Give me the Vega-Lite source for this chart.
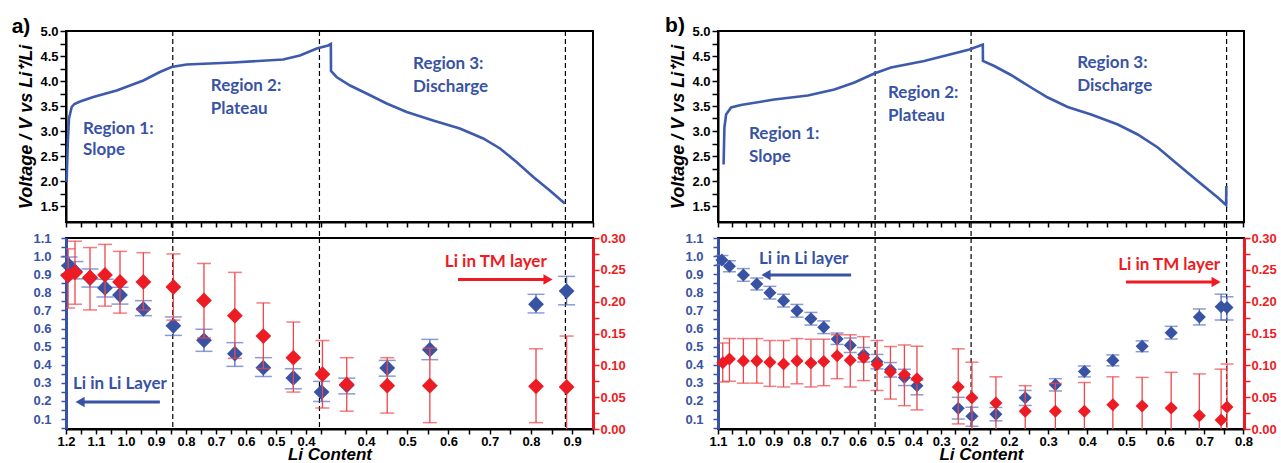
{
  "$schema": "https://vega.github.io/schema/vega-lite/v6.json",
  "background": "white",
  "padding": {"left": 10, "top": 14, "right": 0, "bottom": 0},
  "config": {
    "view": {"stroke": "black", "strokeWidth": 2},
    "axis": {"labelFont": "Liberation Sans", "labelFontWeight": "bold", "labelFontSize": 13, "labelColor": "black", "domainColor": "black", "domainWidth": 2, "tickColor": "black", "tickWidth": 1.5, "grid": false, "titleFont": "Liberation Sans", "titleFontStyle": "italic", "titleFontWeight": "bold", "titleFontSize": 18, "titleColor": "black", "labelOverlap": false, "labelFlush": false, "tickCount": 100}
  },
  "datasets": {
    "vA": [
      {"i":1,"s":0.002,"V":1.98},{"i":2,"s":0.006,"V":2.78},{"i":3,"s":0.010,"V":3.25},{"i":4,"s":0.019,"V":3.48},{"i":5,"s":0.028,"V":3.54},{"i":6,"s":0.047,"V":3.59},{"i":7,"s":0.091,"V":3.68},{"i":8,"s":0.169,"V":3.81},{"i":9,"s":0.258,"V":4.01},{"i":10,"s":0.313,"V":4.18},{"i":11,"s":0.352,"V":4.28},{"i":12,"s":0.402,"V":4.33},{"i":13,"s":0.558,"V":4.37},{"i":14,"s":0.724,"V":4.43},{"i":15,"s":0.78,"V":4.51},{"i":16,"s":0.836,"V":4.65},{"i":17,"s":0.874,"V":4.71},{"i":18,"s":0.883,"V":4.74},{"i":19,"s":0.8835,"V":4.2},{"i":20,"s":0.902,"V":4.08},{"i":21,"s":0.947,"V":3.91},{"i":22,"s":1.002,"V":3.75},{"i":23,"s":1.069,"V":3.55},{"i":24,"s":1.136,"V":3.38},{"i":25,"s":1.224,"V":3.21},{"i":26,"s":1.313,"V":3.05},{"i":27,"s":1.391,"V":2.85},{"i":28,"s":1.447,"V":2.65},{"i":29,"s":1.502,"V":2.38},{"i":30,"s":1.558,"V":2.08},{"i":31,"s":1.613,"V":1.81},{"i":32,"s":1.663,"V":1.55}
    ],
    "vB": [
      {"i":1,"s":0.020,"V":2.33},{"i":2,"s":0.023,"V":3.07},{"i":3,"s":0.029,"V":3.33},{"i":4,"s":0.047,"V":3.47},{"i":5,"s":0.082,"V":3.52},{"i":6,"s":0.202,"V":3.63},{"i":7,"s":0.322,"V":3.71},{"i":8,"s":0.417,"V":3.83},{"i":9,"s":0.489,"V":3.97},{"i":10,"s":0.560,"V":4.15},{"i":11,"s":0.620,"V":4.27},{"i":12,"s":0.739,"V":4.40},{"i":13,"s":0.859,"V":4.57},{"i":14,"s":0.901,"V":4.63},{"i":15,"s":0.949,"V":4.73},{"i":16,"s":0.9495,"V":4.40},{"i":17,"s":0.990,"V":4.30},{"i":18,"s":1.050,"V":4.12},{"i":19,"s":1.122,"V":3.87},{"i":20,"s":1.182,"V":3.67},{"i":21,"s":1.253,"V":3.48},{"i":22,"s":1.337,"V":3.33},{"i":23,"s":1.433,"V":3.13},{"i":24,"s":1.504,"V":2.93},{"i":25,"s":1.576,"V":2.67},{"i":26,"s":1.648,"V":2.33},{"i":27,"s":1.719,"V":2.00},{"i":28,"s":1.791,"V":1.67},{"i":29,"s":1.821,"V":1.52},{"i":30,"s":1.8215,"V":1.90}
    ],
    "dA": [{"s":0.356},{"s":0.845},{"s":1.665}],
    "dB": [{"s":0.563},{"s":0.907},{"s":1.8226}],
    "tA": [{"s":0.057,"V":3.04,"t":"Region 1:"},{"s":0.057,"V":2.62,"t":"Slope"},{"s":0.483,"V":3.9,"t":"Region 2:"},{"s":0.483,"V":3.44,"t":"Plateau"},{"s":1.157,"V":4.34,"t":"Region 3:"},{"s":1.157,"V":3.88,"t":"Discharge"}],
    "tB": [{"s":0.111,"V":2.94,"t":"Region 1:"},{"s":0.111,"V":2.48,"t":"Slope"},{"s":0.609,"V":3.76,"t":"Region 2:"},{"s":0.609,"V":3.30,"t":"Plateau"},{"s":1.287,"V":4.36,"t":"Region 3:"},{"s":1.287,"V":3.90,"t":"Discharge"}],
    "aLi": [
      {"s":0.01,"v":0.947,"lo":0.90,"hi":0.995},{"s":0.03,"v":0.915,"lo":0.874,"hi":0.97},{"s":0.08,"v":0.879,"lo":0.829,"hi":0.929},{"s":0.13,"v":0.824,"lo":0.774,"hi":0.872},{"s":0.18,"v":0.785,"lo":0.735,"hi":0.828},{"s":0.258,"v":0.708,"lo":0.671,"hi":0.754},{"s":0.358,"v":0.615,"lo":0.562,"hi":0.664},{"s":0.46,"v":0.535,"lo":0.474,"hi":0.596},{"s":0.563,"v":0.461,"lo":0.391,"hi":0.522},{"s":0.658,"v":0.384,"lo":0.335,"hi":0.439},{"s":0.758,"v":0.327,"lo":0.267,"hi":0.378},{"s":0.852,"v":0.249,"lo":0.197,"hi":0.308},{"s":0.936,"v":0.286,"lo":0.239,"hi":0.326},{"s":1.071,"v":0.382,"lo":0.337,"hi":0.424},{"s":1.213,"v":0.483,"lo":0.428,"hi":0.54},{"s":1.567,"v":0.734,"lo":0.686,"hi":0.789},{"s":1.669,"v":0.807,"lo":0.731,"hi":0.888}
    ],
    "aTM": [
      {"s":0.007,"v":0.241,"lo":0.19,"hi":0.283},{"s":0.03,"v":0.246,"lo":0.196,"hi":0.295},{"s":0.08,"v":0.238,"lo":0.187,"hi":0.285},{"s":0.13,"v":0.242,"lo":0.193,"hi":0.29},{"s":0.18,"v":0.231,"lo":0.182,"hi":0.279},{"s":0.258,"v":0.231,"lo":0.187,"hi":0.277},{"s":0.358,"v":0.223,"lo":0.171,"hi":0.275},{"s":0.46,"v":0.202,"lo":0.143,"hi":0.26},{"s":0.563,"v":0.178,"lo":0.111,"hi":0.246},{"s":0.658,"v":0.146,"lo":0.095,"hi":0.198},{"s":0.758,"v":0.112,"lo":0.058,"hi":0.168},{"s":0.855,"v":0.086,"lo":0.033,"hi":0.139},{"s":0.936,"v":0.07,"lo":0.028,"hi":0.112},{"s":1.071,"v":0.068,"lo":0.025,"hi":0.112},{"s":1.213,"v":0.068,"lo":0.01,"hi":0.127},{"s":1.567,"v":0.067,"lo":0.01,"hi":0.126},{"s":1.669,"v":0.066,"lo":-0.02,"hi":0.146}
    ],
    "bLi": [
      {"s":0.014,"v":0.978,"lo":0.953,"hi":1.003},{"s":0.041,"v":0.944,"lo":0.914,"hi":0.974},{"s":0.091,"v":0.896,"lo":0.861,"hi":0.931},{"s":0.139,"v":0.846,"lo":0.813,"hi":0.879},{"s":0.186,"v":0.798,"lo":0.763,"hi":0.833},{"s":0.235,"v":0.754,"lo":0.719,"hi":0.789},{"s":0.283,"v":0.698,"lo":0.663,"hi":0.733},{"s":0.333,"v":0.654,"lo":0.619,"hi":0.689},{"s":0.379,"v":0.607,"lo":0.572,"hi":0.642},{"s":0.427,"v":0.542,"lo":0.512,"hi":0.575},{"s":0.474,"v":0.507,"lo":0.467,"hi":0.547},{"s":0.522,"v":0.455,"lo":0.415,"hi":0.495},{"s":0.570,"v":0.417,"lo":0.377,"hi":0.457},{"s":0.618,"v":0.372,"lo":0.332,"hi":0.412},{"s":0.668,"v":0.330,"lo":0.285,"hi":0.375},{"s":0.713,"v":0.284,"lo":0.234,"hi":0.315},{"s":0.861,"v":0.159,"lo":0.10,"hi":0.22},{"s":0.910,"v":0.115,"lo":0.06,"hi":0.165},{"s":0.996,"v":0.126,"lo":0.09,"hi":0.164},{"s":1.101,"v":0.218,"lo":0.175,"hi":0.258},{"s":1.209,"v":0.289,"lo":0.255,"hi":0.323},{"s":1.313,"v":0.363,"lo":0.333,"hi":0.393},{"s":1.415,"v":0.424,"lo":0.394,"hi":0.454},{"s":1.520,"v":0.502,"lo":0.472,"hi":0.532},{"s":1.624,"v":0.577,"lo":0.542,"hi":0.612},{"s":1.725,"v":0.664,"lo":0.62,"hi":0.708},{"s":1.803,"v":0.72,"lo":0.647,"hi":0.79},{"s":1.824,"v":0.716,"lo":0.647,"hi":0.775}
    ],
    "bTM": [
      {"s":0.017,"v":0.104,"lo":0.074,"hi":0.135},{"s":0.041,"v":0.110,"lo":0.075,"hi":0.142},{"s":0.091,"v":0.107,"lo":0.072,"hi":0.142},{"s":0.139,"v":0.107,"lo":0.072,"hi":0.142},{"s":0.186,"v":0.105,"lo":0.067,"hi":0.139},{"s":0.235,"v":0.102,"lo":0.066,"hi":0.139},{"s":0.283,"v":0.107,"lo":0.071,"hi":0.142},{"s":0.333,"v":0.1035,"lo":0.066,"hi":0.141},{"s":0.379,"v":0.106,"lo":0.068,"hi":0.141},{"s":0.427,"v":0.115,"lo":0.079,"hi":0.148},{"s":0.474,"v":0.108,"lo":0.066,"hi":0.148},{"s":0.522,"v":0.112,"lo":0.076,"hi":0.145},{"s":0.570,"v":0.1015,"lo":0.0605,"hi":0.139},{"s":0.618,"v":0.0897,"lo":0.047,"hi":0.1295},{"s":0.668,"v":0.0855,"lo":0.0366,"hi":0.132},{"s":0.713,"v":0.079,"lo":0.03,"hi":0.13},{"s":0.861,"v":0.066,"lo":0.008,"hi":0.126},{"s":0.910,"v":0.049,"lo":-0.02,"hi":0.105},{"s":0.996,"v":0.041,"lo":-0.02,"hi":0.082},{"s":1.101,"v":0.028,"lo":-0.02,"hi":0.068},{"s":1.209,"v":0.028,"lo":-0.02,"hi":0.0717},{"s":1.313,"v":0.028,"lo":-0.02,"hi":0.073},{"s":1.415,"v":0.038,"lo":-0.02,"hi":0.082},{"s":1.520,"v":0.036,"lo":-0.02,"hi":0.081},{"s":1.624,"v":0.033,"lo":-0.02,"hi":0.089},{"s":1.725,"v":0.021,"lo":-0.02,"hi":0.0865},{"s":1.803,"v":0.014,"lo":-0.02,"hi":0.094},{"s":1.824,"v":0.0345,"lo":-0.02,"hi":0.102}
    ]
  },
  "spacing": 37,
  "hconcat": [
    {
      "spacing": 16,
      "bounds": "flush",
      "vconcat": [
        {
          "width": 527, "height": 191,
          "encoding": {"x": {"field": "s", "type": "quantitative", "scale": {"domain": [0, 1.757], "nice": false, "zero": false}, "axis": {"values": [0,0.05,0.1,0.15,0.2,0.25,0.3,0.35,0.4,0.45,0.5,0.55,0.6,0.65,0.7,0.75,0.8,0.85,0.93125,1.0,1.06875,1.1375,1.20625,1.275,1.34375,1.4125,1.48125,1.55,1.61875,1.6875,1.75625], "tickCount": 100, "labels": false, "tickSize": 5, "title": null}}},
          "layer": [
            {"data": {"name": "dA"}, "mark": {"type": "rule", "strokeDash": [5, 3], "color": "black", "strokeWidth": 1.2}, "encoding": {"y": {"datum": 5, "type": "quantitative"}, "y2": {"datum": 0.86}}},
            {"data": {"name": "vA"}, "mark": {"type": "line", "color": "#3d5aad", "strokeWidth": 2.6}, "encoding": {"y": {"field": "V", "type": "quantitative", "scale": {"domain": [1.18, 5], "nice": false, "zero": false}, "axis": {"values": [1.5,1.75,2,2.25,2.5,2.75,3,3.25,3.5,3.75,4,4.25,4.5,4.75,5], "tickCount": 100, "labelExpr": "(datum.value*2) % 1 == 0 ? format(datum.value, '.1f') : ''", "labelOverlap": false, "title": "Voltage / V vs Li⁺/Li", "titlePadding": 4, "tickSize": 6, "labelPadding": 2}}, "order": {"field": "i"}}},
            {"data": {"name": "tA"}, "mark": {"type": "text", "align": "left", "baseline": "middle", "font": "Lato", "fontWeight": "bold", "fontSize": 17, "color": "#3953a4"}, "encoding": {"y": {"field": "V", "type": "quantitative"}, "text": {"field": "t"}}},
            {"data": {"values": [{"s": -0.15, "V": 5.08, "t": "a)"}]}, "mark": {"type": "text", "baseline": "middle", "font": "Liberation Sans", "fontWeight": "bold", "fontSize": 21, "color": "black"}, "encoding": {"y": {"field": "V", "type": "quantitative"}, "text": {"field": "t"}}}
          ]
        },
        {
          "width": 527, "height": 191,
          "encoding": {"x": {"field": "s", "type": "quantitative", "scale": {"domain": [0, 1.757], "nice": false, "zero": false}, "axis": {"values": [0,0.05,0.1,0.15,0.2,0.25,0.3,0.35,0.4,0.45,0.5,0.55,0.6,0.65,0.7,0.75,0.8,0.85,0.93125,1.0,1.06875,1.1375,1.20625,1.275,1.34375,1.4125,1.48125,1.55,1.61875,1.6875,1.75625], "tickCount": 100, "labelExpr": "datum.value < 0.9 ? (round(datum.value*100) % 10 == 0 ? format(1.2 - datum.value, '.1f') : '') : (round((datum.value - 1.0)/0.06875) % 2 == 0 ? format(0.4 + (datum.value - 1.0)/1.375, '.1f') : '')", "labelOverlap": false, "tickSize": 5, "labelPadding": 1, "title": "Li Content", "titleFontSize": 17, "titlePadding": -2}}},
          "layer": [
            {
              "layer": [
                {"data": {"name": "dA"}, "mark": {"type": "rule", "strokeDash": [5, 3], "color": "black", "strokeWidth": 1.2}, "encoding": {"y": {"datum": 1.1, "type": "quantitative"}, "y2": {"datum": 0.045}}},
                {"data": {"name": "aLi"}, "mark": {"type": "rule", "color": "#5a70c0", "strokeWidth": 1.3}, "encoding": {"y": {"field": "lo", "type": "quantitative", "title": null}, "y2": {"field": "hi"}}},
                {"data": {"name": "aLi"}, "transform": [{"fold": ["lo", "hi"], "as": ["k", "cap"]}], "mark": {"type": "tick", "orient": "horizontal", "color": "#5a70c0", "size": 17, "thickness": 1.5}, "encoding": {"y": {"field": "cap", "type": "quantitative", "title": null}}},
                {"data": {"name": "aLi"}, "mark": {"type": "point", "shape": "diamond", "filled": true, "size": 250, "color": "#3953a4", "opacity": 1}, "encoding": {"y": {"field": "v", "type": "quantitative", "title": null, "scale": {"domain": [0.045, 1.1], "nice": false, "zero": false}, "axis": {"values": [0.05,0.1,0.15,0.2,0.25,0.3,0.35,0.4,0.45,0.5,0.55,0.6,0.65,0.7,0.75,0.8,0.85,0.9,0.95,1.0,1.05,1.1], "tickCount": 100, "labelExpr": "round(datum.value*100) % 10 == 0 ? format(datum.value, '.1f') : ''", "labelOverlap": false, "labelColor": "#3953a4", "domainColor": "#3953a4", "domainWidth": 3, "tickColor": "#3953a4", "tickSize": 5, "labelPadding": 10, "title": null}}}},
                {"data": {"values": [{"s": 0.023, "v": 0.293, "t": "Li  in Li Layer"}]}, "mark": {"type": "text", "align": "left", "baseline": "middle", "font": "Lato", "fontWeight": "bold", "fontSize": 17, "color": "#3953a4"}, "encoding": {"y": {"field": "v", "type": "quantitative", "title": null}, "text": {"field": "t"}}},
                {"data": {"values": [{"s": 0.05, "s2": 0.313, "v": 0.194}]}, "mark": {"type": "rule", "color": "#3953a4", "strokeWidth": 3}, "encoding": {"x2": {"field": "s2"}, "y": {"field": "v", "type": "quantitative", "title": null}}},
                {"data": {"values": [{"s": 0.047, "v": 0.194}]}, "mark": {"type": "point", "shape": "triangle-left", "filled": true, "size": 110, "color": "#3953a4", "opacity": 1}, "encoding": {"y": {"field": "v", "type": "quantitative", "title": null}}}
              ]
            },
            {
              "layer": [
                {"data": {"name": "aTM"}, "mark": {"type": "rule", "color": "#f0454a", "strokeWidth": 1.3, "clip": true}, "encoding": {"y": {"field": "lo", "type": "quantitative", "title": null}, "y2": {"field": "hi"}}},
                {"data": {"name": "aTM"}, "transform": [{"fold": ["lo", "hi"], "as": ["k", "cap"]}], "mark": {"type": "tick", "orient": "horizontal", "color": "#f0454a", "size": 14, "thickness": 1.5, "clip": true}, "encoding": {"y": {"field": "cap", "type": "quantitative", "title": null}}},
                {"data": {"name": "aTM"}, "mark": {"type": "point", "shape": "diamond", "filled": true, "size": 250, "color": "#ed1c24", "opacity": 1}, "encoding": {"y": {"field": "v", "type": "quantitative", "title": null, "scale": {"domain": [0, 0.3], "nice": false, "zero": false}, "axis": {"orient": "right", "values": [0,0.025,0.05,0.075,0.1,0.125,0.15,0.175,0.2,0.225,0.25,0.275,0.3], "tickCount": 100, "labelExpr": "round(datum.value*1000) % 50 == 0 ? format(datum.value, '.2f') : ''", "labelOverlap": false, "labelColor": "#ed1c24", "domainColor": "#ed1c24", "domainWidth": 3, "tickColor": "#ed1c24", "tickSize": 6, "labelPadding": 1, "title": null}}}},
                {"data": {"values": [{"s": 1.263, "v": 0.262, "t": "Li in TM layer"}]}, "mark": {"type": "text", "align": "left", "baseline": "middle", "font": "Lato", "fontWeight": "bold", "fontSize": 17, "color": "#ed1c24"}, "encoding": {"y": {"field": "v", "type": "quantitative", "title": null}, "text": {"field": "t"}}},
                {"data": {"values": [{"s": 1.60, "s2": 1.307, "v": 0.235}]}, "mark": {"type": "rule", "color": "#ed1c24", "strokeWidth": 3}, "encoding": {"x2": {"field": "s2"}, "y": {"field": "v", "type": "quantitative", "title": null}}},
                {"data": {"values": [{"s": 1.607, "v": 0.235}]}, "mark": {"type": "point", "shape": "triangle-right", "filled": true, "size": 110, "color": "#ed1c24", "opacity": 1}, "encoding": {"y": {"field": "v", "type": "quantitative", "title": null}}}
              ]
            }
          ],
          "resolve": {"scale": {"y": "independent"}, "axis": {"y": "independent"}}
        }
      ]
    },
    {
      "spacing": 16,
      "bounds": "flush",
      "vconcat": [
        {
          "width": 526, "height": 191,
          "encoding": {"x": {"field": "s", "type": "quantitative", "scale": {"domain": [0, 1.885], "nice": false, "zero": false}, "axis": {"values": [0,0.05,0.1,0.15,0.2,0.25,0.3,0.35,0.4,0.45,0.5,0.55,0.6,0.65,0.7,0.75,0.8,0.85,0.9,0.973,1.043,1.113,1.183,1.253,1.323,1.393,1.463,1.533,1.603,1.673,1.743,1.813,1.883], "tickCount": 100, "labels": false, "tickSize": 5, "title": null}}},
          "layer": [
            {"data": {"name": "dB"}, "mark": {"type": "rule", "strokeDash": [5, 3], "color": "black", "strokeWidth": 1.2}, "encoding": {"y": {"datum": 5, "type": "quantitative"}, "y2": {"datum": 0.86}}},
            {"data": {"name": "vB"}, "mark": {"type": "line", "color": "#3d5aad", "strokeWidth": 2.6}, "encoding": {"y": {"field": "V", "type": "quantitative", "scale": {"domain": [1.18, 5], "nice": false, "zero": false}, "axis": {"values": [1.5,1.75,2,2.25,2.5,2.75,3,3.25,3.5,3.75,4,4.25,4.5,4.75,5], "tickCount": 100, "labelExpr": "(datum.value*2) % 1 == 0 ? format(datum.value, '.1f') : ''", "labelOverlap": false, "title": "Voltage / V vs Li⁺/Li", "titlePadding": 4, "tickSize": 6, "labelPadding": 2}}, "order": {"field": "i"}}},
            {"data": {"name": "tB"}, "mark": {"type": "text", "align": "left", "baseline": "middle", "font": "Lato", "fontWeight": "bold", "fontSize": 17, "color": "#3953a4"}, "encoding": {"y": {"field": "V", "type": "quantitative"}, "text": {"field": "t"}}},
            {"data": {"values": [{"s": -0.154, "V": 5.1, "t": "b)"}]}, "mark": {"type": "text", "baseline": "middle", "font": "Liberation Sans", "fontWeight": "bold", "fontSize": 21, "color": "black"}, "encoding": {"y": {"field": "V", "type": "quantitative"}, "text": {"field": "t"}}}
          ]
        },
        {
          "width": 526, "height": 191,
          "encoding": {"x": {"field": "s", "type": "quantitative", "scale": {"domain": [0, 1.885], "nice": false, "zero": false}, "axis": {"values": [0,0.05,0.1,0.15,0.2,0.25,0.3,0.35,0.4,0.45,0.5,0.55,0.6,0.65,0.7,0.75,0.8,0.85,0.9,0.973,1.043,1.113,1.183,1.253,1.323,1.393,1.463,1.533,1.603,1.673,1.743,1.813,1.883], "tickCount": 100, "labelExpr": "datum.value < 0.95 ? (round(datum.value*100) % 10 == 0 ? format(1.1 - datum.value, '.1f') : '') : (round((datum.value - 1.043)/0.07) % 2 == 0 ? format(0.2 + (datum.value - 1.043)/1.4, '.1f') : '')", "labelOverlap": false, "tickSize": 5, "labelPadding": 1, "title": "Li Content", "titleFontSize": 17, "titlePadding": -2}}},
          "layer": [
            {
              "layer": [
                {"data": {"name": "dB"}, "mark": {"type": "rule", "strokeDash": [5, 3], "color": "black", "strokeWidth": 1.2}, "encoding": {"y": {"datum": 1.1, "type": "quantitative"}, "y2": {"datum": 0.045}}},
                {"data": {"name": "bLi"}, "mark": {"type": "rule", "color": "#5a70c0", "strokeWidth": 1.3}, "encoding": {"y": {"field": "lo", "type": "quantitative", "title": null}, "y2": {"field": "hi"}}},
                {"data": {"name": "bLi"}, "transform": [{"fold": ["lo", "hi"], "as": ["k", "cap"]}], "mark": {"type": "tick", "orient": "horizontal", "color": "#5a70c0", "size": 13, "thickness": 1.5}, "encoding": {"y": {"field": "cap", "type": "quantitative", "title": null}}},
                {"data": {"name": "bLi"}, "mark": {"type": "point", "shape": "diamond", "filled": true, "size": 170, "color": "#3953a4", "opacity": 1}, "encoding": {"y": {"field": "v", "type": "quantitative", "title": null, "scale": {"domain": [0.045, 1.1], "nice": false, "zero": false}, "axis": {"values": [0.05,0.1,0.15,0.2,0.25,0.3,0.35,0.4,0.45,0.5,0.55,0.6,0.65,0.7,0.75,0.8,0.85,0.9,0.95,1.0,1.05,1.1], "tickCount": 100, "labelExpr": "round(datum.value*100) % 10 == 0 ? format(datum.value, '.1f') : ''", "labelOverlap": false, "labelColor": "#3953a4", "domainColor": "#3953a4", "domainWidth": 3, "tickColor": "#3953a4", "tickSize": 5, "labelPadding": 10, "title": null}}}},
                {"data": {"values": [{"s": 0.147, "v": 0.984, "t": "Li in Li layer"}]}, "mark": {"type": "text", "align": "left", "baseline": "middle", "font": "Lato", "fontWeight": "bold", "fontSize": 17, "color": "#3953a4"}, "encoding": {"y": {"field": "v", "type": "quantitative", "title": null}, "text": {"field": "t"}}},
                {"data": {"values": [{"s": 0.175, "s2": 0.477, "v": 0.896}]}, "mark": {"type": "rule", "color": "#3953a4", "strokeWidth": 3}, "encoding": {"x2": {"field": "s2"}, "y": {"field": "v", "type": "quantitative", "title": null}}},
                {"data": {"values": [{"s": 0.172, "v": 0.896}]}, "mark": {"type": "point", "shape": "triangle-left", "filled": true, "size": 110, "color": "#3953a4", "opacity": 1}, "encoding": {"y": {"field": "v", "type": "quantitative", "title": null}}}
              ]
            },
            {
              "layer": [
                {"data": {"name": "bTM"}, "mark": {"type": "rule", "color": "#f0454a", "strokeWidth": 1.3, "clip": true}, "encoding": {"y": {"field": "lo", "type": "quantitative", "title": null}, "y2": {"field": "hi"}}},
                {"data": {"name": "bTM"}, "transform": [{"fold": ["lo", "hi"], "as": ["k", "cap"]}], "mark": {"type": "tick", "orient": "horizontal", "color": "#f0454a", "size": 13, "thickness": 1.5, "clip": true}, "encoding": {"y": {"field": "cap", "type": "quantitative", "title": null}}},
                {"data": {"name": "bTM"}, "mark": {"type": "point", "shape": "diamond", "filled": true, "size": 170, "color": "#ed1c24", "opacity": 1}, "encoding": {"y": {"field": "v", "type": "quantitative", "title": null, "scale": {"domain": [0, 0.3], "nice": false, "zero": false}, "axis": {"orient": "right", "values": [0,0.025,0.05,0.075,0.1,0.125,0.15,0.175,0.2,0.225,0.25,0.275,0.3], "tickCount": 100, "labelExpr": "round(datum.value*1000) % 50 == 0 ? format(datum.value, '.2f') : ''", "labelOverlap": false, "labelColor": "#ed1c24", "domainColor": "#ed1c24", "domainWidth": 3, "tickColor": "#ed1c24", "tickSize": 6, "labelPadding": 1, "title": null}}}},
                {"data": {"values": [{"s": 1.434, "v": 0.258, "t": "Li in TM layer"}]}, "mark": {"type": "text", "align": "left", "baseline": "middle", "font": "Lato", "fontWeight": "bold", "fontSize": 17, "color": "#ed1c24"}, "encoding": {"y": {"field": "v", "type": "quantitative", "title": null}, "text": {"field": "t"}}},
                {"data": {"values": [{"s": 1.778, "s2": 1.462, "v": 0.231}]}, "mark": {"type": "rule", "color": "#ed1c24", "strokeWidth": 3}, "encoding": {"x2": {"field": "s2"}, "y": {"field": "v", "type": "quantitative", "title": null}}},
                {"data": {"values": [{"s": 1.785, "v": 0.231}]}, "mark": {"type": "point", "shape": "triangle-right", "filled": true, "size": 110, "color": "#ed1c24", "opacity": 1}, "encoding": {"y": {"field": "v", "type": "quantitative", "title": null}}}
              ]
            }
          ],
          "resolve": {"scale": {"y": "independent"}, "axis": {"y": "independent"}}
        }
      ]
    }
  ]
}
